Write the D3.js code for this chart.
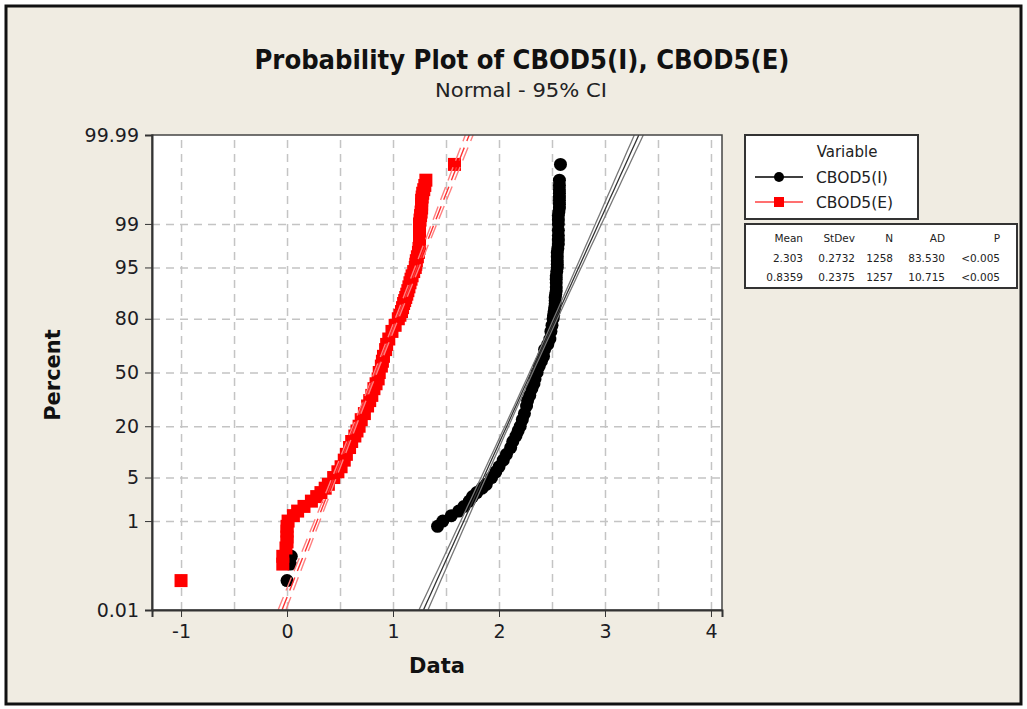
<!DOCTYPE html>
<html>
<head>
<meta charset="utf-8">
<script src="https://cdn.jsdelivr.net/npm/d3@7"></script>
<style>
  body { margin: 0; background: #fff; }
  text { font-family: "DejaVu Sans", Tahoma, sans-serif; }
  .grid line { stroke: #c4c4c4; stroke-width: 1.5; stroke-dasharray: 8,6; }
  .grid path { stroke: none; }
  .axis path, .axis line { stroke: #333; }
  .axis text { font-size: 19px; fill: #1c1c24; }
</style>
</head>
<body>
<div id="chart"></div>
<script>
// plotting positions (percent) shared by both series
var percentLevels = [0.056, 0.135, 0.2, 0.3, 0.4, 0.5, 0.65, 0.8, 1, 1.25, 1.5, 1.8, 2.2, 2.6, 3, 3.5, 4,
  5, 6, 7, 8.5, 10, 12, 14, 16, 18, 20, 23, 26, 30, 33, 36, 40, 43, 46, 50, 54, 57, 60, 64, 67, 70,
  74, 77, 80, 81.5, 83, 84.5, 86, 87, 88, 89, 90, 91, 92, 92.8, 93.5, 94.3, 95, 95.5, 96, 96.5, 97, 97.4,
  97.8, 98.1, 98.4, 98.7, 99, 99.15, 99.3, 99.4, 99.5, 99.58, 99.65, 99.7, 99.75, 99.79, 99.83, 99.87, 99.944];

// CBOD5(I) - black circles (null = hidden under the red squares)
var cbodI = [0.00, 0.03, 0.04, null, null, null, null, 1.42, 1.47, 1.55, 1.62, 1.67, 1.72, 1.75, 1.79, 1.84, 1.88,
  1.93, 1.97, 2.00, 2.04, 2.07, 2.11, 2.13, 2.16, 2.18, 2.20, 2.22, 2.24, 2.26, 2.27, 2.29, 2.31, 2.33, 2.34, 2.36, 2.38, 2.40, 2.42, 2.43, 2.46, 2.48,
  2.49, 2.50, 2.51, 2.515, 2.52, 2.525, 2.53, 2.53, 2.53, 2.535, 2.54, 2.54, 2.54, 2.54, 2.54, 2.545, 2.55, 2.55, 2.55, 2.55, 2.55, 2.555,
  2.56, 2.56, 2.56, 2.56, 2.56, 2.56, 2.56, 2.565, 2.57, 2.57, 2.57, 2.57, 2.57, 2.57, 2.57, 2.57, 2.58];

// CBOD5(E) - red squares
var cbodE = [-1.00, -0.04, -0.04, -0.01, 0.00, 0.00, 0.00, 0.00, 0.01, 0.06, 0.10, 0.16, 0.23, 0.28, 0.32, 0.36, 0.39,
  0.44, 0.48, 0.51, 0.54, 0.56, 0.59, 0.61, 0.64, 0.66, 0.68, 0.70, 0.73, 0.76, 0.78, 0.80, 0.82, 0.84, 0.86, 0.87, 0.89, 0.90, 0.91, 0.93, 0.94, 0.96,
  0.99, 1.02, 1.05, 1.065, 1.08, 1.09, 1.10, 1.11, 1.12, 1.13, 1.14, 1.15, 1.16, 1.17, 1.18, 1.195, 1.21, 1.215, 1.22, 1.23, 1.24, 1.245,
  1.25, 1.25, 1.25, 1.25, 1.25, 1.255, 1.26, 1.265, 1.27, 1.27, 1.27, 1.275, 1.28, 1.29, 1.30, 1.31, 1.58];

var seriesNames = ["CBOD5(I)", "CBOD5(E)"];
var means = [2.303, 0.8359];
var stdevs = [0.2732, 0.2375];
var counts = [1258, 1257];
var adValues = ["83.530", "10.715"];
var pValues = ["<0.005", "<0.005"];

var xTicks = [-1, 0, 1, 2, 3, 4];
var xGrid = [-1, -0.5, 0, 0.5, 1, 1.5, 2, 2.5, 3, 3.5, 4];
var yTickPct = [0.01, 1, 5, 20, 50, 80, 95, 99, 99.99];
var yTickLabels = ["0.01", "1", "5", "20", "50", "80", "95", "99", "99.99"];
var yGridPct = [1, 5, 20, 50, 80, 95, 99];

// inverse standard normal (Acklam)
function qnorm(p) {
  var a = [-3.969683028665376e+01, 2.209460984245205e+02, -2.759285104469687e+02, 1.383577518672690e+02, -3.066479806614716e+01, 2.506628277459239e+00];
  var b = [-5.447609879822406e+01, 1.615858368580409e+02, -1.556989798598866e+02, 6.680131188771972e+01, -1.328068155288572e+01];
  var c = [-7.784894002430293e-03, -3.223964580411365e-01, -2.400758277161838e+00, -2.549732539343734e+00, 4.374664141464968e+00, 2.938163982698783e+00];
  var d = [7.784695709041462e-03, 3.224671290700398e-01, 2.445134137142996e+00, 3.754408661907416e+00];
  var q, r;
  if (p < 0.02425) {
    q = Math.sqrt(-2 * Math.log(p));
    return (((((c[0]*q+c[1])*q+c[2])*q+c[3])*q+c[4])*q+c[5]) / ((((d[0]*q+d[1])*q+d[2])*q+d[3])*q+1);
  }
  if (p > 1 - 0.02425) {
    q = Math.sqrt(-2 * Math.log(1 - p));
    return -(((((c[0]*q+c[1])*q+c[2])*q+c[3])*q+c[4])*q+c[5]) / ((((d[0]*q+d[1])*q+d[2])*q+d[3])*q+1);
  }
  q = p - 0.5; r = q * q;
  return (((((a[0]*r+a[1])*r+a[2])*r+a[3])*r+a[4])*r+a[5])*q / (((((b[0]*r+b[1])*r+b[2])*r+b[3])*r+b[4])*r+1);
}

var W = 1027, H = 709;
var plot = { left: 152, right: 722, top: 135, bottom: 610 };

var x = d3.scaleLinear().domain([-1.274, 4.104]).range([plot.left, plot.right]);
var zMin = qnorm(0.0001), zMax = qnorm(0.9999);
var y = d3.scaleLinear().domain([zMin, zMax]).range([plot.bottom, plot.top]);
var yp = function(pct) { return y(qnorm(pct / 100)); };

var svg = d3.select("#chart").append("svg")
  .attr("width", W)
  .attr("height", H);

// outer frame and beige background
svg.append("rect").attr("x", 0).attr("y", 0).attr("width", W).attr("height", H).attr("fill", "#fff");
svg.append("rect")
  .attr("x", 6).attr("y", 6).attr("width", 1015).attr("height", 698)
  .attr("fill", "#f0ece2").attr("stroke", "#111").attr("stroke-width", 3);

// title
svg.append("text")
  .attr("x", 522).attr("y", 69)
  .attr("text-anchor", "middle")
  .attr("textLength", 535).attr("lengthAdjust", "spacingAndGlyphs")
  .style("font-size", "27px").style("font-weight", "bold").attr("fill", "#111")
  .text("Probability Plot of CBOD5(I), CBOD5(E)");
svg.append("text")
  .attr("x", 521).attr("y", 97)
  .attr("text-anchor", "middle")
  .attr("textLength", 172).attr("lengthAdjust", "spacingAndGlyphs")
  .style("font-size", "19px").attr("fill", "#222")
  .text("Normal - 95% CI");

// plot area
svg.append("rect")
  .attr("x", plot.left).attr("y", plot.top)
  .attr("width", plot.right - plot.left).attr("height", plot.bottom - plot.top)
  .attr("fill", "#fff");

svg.append("defs").append("clipPath")
  .attr("id", "clip")
  .append("rect")
  .attr("x", plot.left).attr("y", plot.top)
  .attr("width", plot.right - plot.left).attr("height", plot.bottom - plot.top);

// vertical gridlines
svg.append("g")
  .attr("class", "grid")
  .attr("transform", "translate(0," + plot.bottom + ")")
  .call(d3.axisBottom(x).tickValues(xGrid).tickSize(-(plot.bottom - plot.top)).tickFormat(""));

// horizontal gridlines
svg.append("g")
  .attr("class", "grid")
  .attr("transform", "translate(" + plot.left + ",0)")
  .call(d3.axisLeft(y).tickValues(yGridPct.map(function(p) { return qnorm(p / 100); }))
    .tickSize(-(plot.right - plot.left)).tickFormat(""));

// fitted lines with 95% CI
var zs = d3.range(0, 61).map(function(i) { return zMin + (zMax - zMin) * i / 60; });
function fitPath(k, side) {
  var mu = means[k], sd = stdevs[k], n = counts[k];
  return d3.line()
    .x(function(z) { return x(mu + z * sd + side * 1.96 * sd * Math.sqrt(1 / n + z * z / (2 * (n - 1)))); })
    .y(function(z) { return y(z); })(zs);
}

// CBOD5(I) points
svg.append("g").attr("clip-path", "url(#clip)")
  .selectAll("circle")
  .data(percentLevels.map(function(p, i) { return [cbodI[i], p]; }).filter(function(d) { return d[0] !== null; }))
  .enter().append("circle")
  .attr("cx", function(d) { return x(d[0]); })
  .attr("cy", function(d) { return yp(d[1]); })
  .attr("r", 6.5)
  .attr("fill", "#000");

// CBOD5(E) points
svg.append("g").attr("clip-path", "url(#clip)")
  .selectAll("rect")
  .data(percentLevels.map(function(p, i) { return [cbodE[i], p]; }))
  .enter().append("rect")
  .attr("x", function(d) { return x(d[0]) - 6.5; })
  .attr("y", function(d) { return yp(d[1]) - 6.5; })
  .attr("width", 13).attr("height", 13)
  .attr("fill", "#f00");

[-1, 0, 1].forEach(function(side) {
  svg.append("path")
    .attr("clip-path", "url(#clip)")
    .attr("d", fitPath(0, side))
    .attr("fill", "none")
    .attr("stroke", side === 0 ? "#333" : "#777")
    .attr("stroke-width", 1.3);
  svg.append("path")
    .attr("clip-path", "url(#clip)")
    .attr("d", fitPath(1, side))
    .attr("fill", "none")
    .attr("stroke", side === 0 ? "#f33" : "#ff8080")
    .attr("stroke-width", 1.4)
    .attr("stroke-dasharray", "14,7");
});

// frame
svg.append("rect")
  .attr("x", plot.left).attr("y", plot.top)
  .attr("width", plot.right - plot.left).attr("height", plot.bottom - plot.top)
  .attr("fill", "none").attr("stroke", "#444").attr("stroke-width", 1.5);

// axes
var xAxis = svg.append("g")
  .attr("class", "axis")
  .attr("transform", "translate(0," + plot.bottom + ")")
  .call(d3.axisBottom(x).tickValues(xTicks).tickSize(7).tickPadding(8).tickFormat(function(d) { return String(d); }));
xAxis.select(".domain").attr("stroke-width", 2);

var yAxis = svg.append("g")
  .attr("class", "axis")
  .attr("transform", "translate(" + plot.left + ",0)")
  .call(d3.axisLeft(y).tickValues(yTickPct.map(function(p) { return qnorm(p / 100); }))
    .tickSize(7).tickPadding(6).tickFormat(function(d, i) { return yTickLabels[i]; }));
yAxis.select(".domain").attr("stroke-width", 2);

// axis titles
svg.append("text")
  .attr("x", 437).attr("y", 673)
  .attr("text-anchor", "middle")
  .style("font-size", "21px").style("font-weight", "bold").attr("fill", "#111")
  .text("Data");
svg.append("text")
  .attr("transform", "translate(60,375) rotate(-90)")
  .attr("text-anchor", "middle")
  .style("font-size", "21px").style("font-weight", "bold").attr("fill", "#111")
  .text("Percent");

// legend
var leg = svg.append("g");
leg.append("rect")
  .attr("x", 745).attr("y", 135).attr("width", 173).attr("height", 84)
  .attr("fill", "#fff").attr("stroke", "#333").attr("stroke-width", 2);
leg.append("text")
  .attr("x", 847).attr("y", 157)
  .attr("text-anchor", "middle")
  .style("font-size", "15px").attr("fill", "#222")
  .text("Variable");

var legColors = ["#000", "#f00"];
var legLine = ["#000", "#ff4040"];
seriesNames.forEach(function(name, i) {
  var ly = 177 + i * 25;
  leg.append("line")
    .attr("x1", 755).attr("x2", 803).attr("y1", ly).attr("y2", ly)
    .attr("stroke", legLine[i]).attr("stroke-width", 1.5);
  if (i === 0) {
    leg.append("circle").attr("cx", 779).attr("cy", ly).attr("r", 5).attr("fill", legColors[i]);
  } else {
    leg.append("rect").attr("x", 774).attr("y", ly - 5).attr("width", 10).attr("height", 10).attr("fill", legColors[i]);
  }
  leg.append("text")
    .attr("x", 816).attr("y", ly + 5.5)
    .style("font-size", "15.5px").attr("fill", "#222")
    .text(name);
});

// statistics table
var stat = svg.append("g");
stat.append("rect")
  .attr("x", 745).attr("y", 224).attr("width", 272).attr("height", 64)
  .attr("fill", "#fff").attr("stroke", "#333").attr("stroke-width", 2);
var colX = [803, 855, 893, 945, 1000];
var headers = ["Mean", "StDev", "N", "AD", "P"];
headers.forEach(function(h, j) {
  stat.append("text")
    .attr("x", colX[j]).attr("y", 242)
    .attr("text-anchor", "end")
    .style("font-size", "10.5px").attr("fill", "#222")
    .text(h);
});
seriesNames.forEach(function(name, i) {
  var row = [String(means[i]), String(stdevs[i]), String(counts[i]), adValues[i], pValues[i]];
  row.forEach(function(v, j) {
    stat.append("text")
      .attr("x", colX[j]).attr("y", 262 + i * 19)
      .attr("text-anchor", "end")
      .style("font-size", "10.5px").attr("fill", "#222")
      .text(v);
  });
});
</script>
</body>
</html>
